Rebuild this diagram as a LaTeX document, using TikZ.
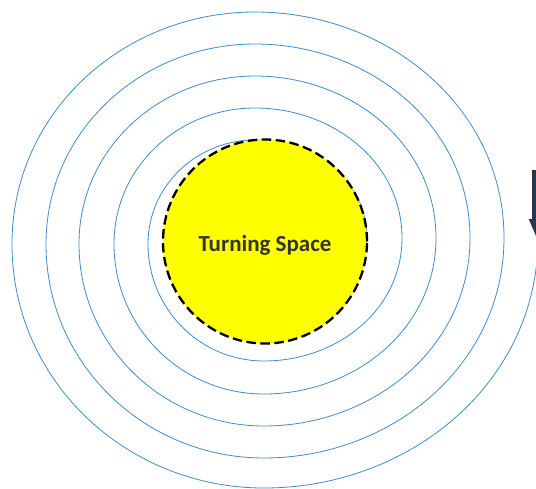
\documentclass[tikz,border=0pt]{standalone}
\usepackage{fontspec}
\usepackage{tikz}
\usetikzlibrary{arrows.meta}
\newfontfamily\labelfont{Carlito}
\definecolor{ringblue}{HTML}{3C8DCC}
\definecolor{spaceyellow}{HTML}{FFFF00}
\definecolor{arrownavy}{HTML}{22384F}
\definecolor{textgrey}{HTML}{333333}
\tikzset{
  spiral/.style    = {draw=ringblue, line width=0.8pt},
  space/.style     = {circle, fill=spaceyellow, draw=black, line width=2.3pt,
                      dash pattern=on 9.5pt off 4.5pt, minimum size=204pt, inner sep=0pt},
  spacetext/.style = {font=\labelfont\bfseries\fontsize{23pt}{26pt}\selectfont,
                      text=textgrey, text depth=0pt, inner sep=0pt},
  turnarrow/.style = {-{Triangle[width=14pt,length=19pt]}, line width=9pt, arrownavy},
}

\begin{document}
\begin{tikzpicture}[x=1pt,y=-1pt]
  \useasboundingbox (0,0) rectangle (536,488);
  \clip (0,0) rectangle (536,488);
  \fill[white] (0,0) rectangle (536,488);
  % spiral, one loop per line: right -> top -> left -> bottom -> next right
  \foreach \r/\t/\l/\b/\n in {367/140/148/361/402, 402/108/114/394/436,
                              436/76/79/426/470, 470/44/46/458/504, 504/12/12/488/538}
    \draw[spiral] (\r,238) to[out=90,in=0] (255,\t) to[out=180,in=90] (\l,244)
                  to[out=270,in=180] (264,\b) to[out=0,in=270] (\n,238);
  % turning space
  \node[space] (turn) at (265,241.5) {};
  \node[spacetext] (turnlabel) at ([yshift=-2pt]turn.center) {Turning Space};
  % direction arrow at the outer end
  \coordinate (arrtop) at (536.5,170);
  \coordinate (arrtip) at (536.5,238);
  \draw[turnarrow] (arrtop) -- (arrtip);
\end{tikzpicture}
\end{document}
